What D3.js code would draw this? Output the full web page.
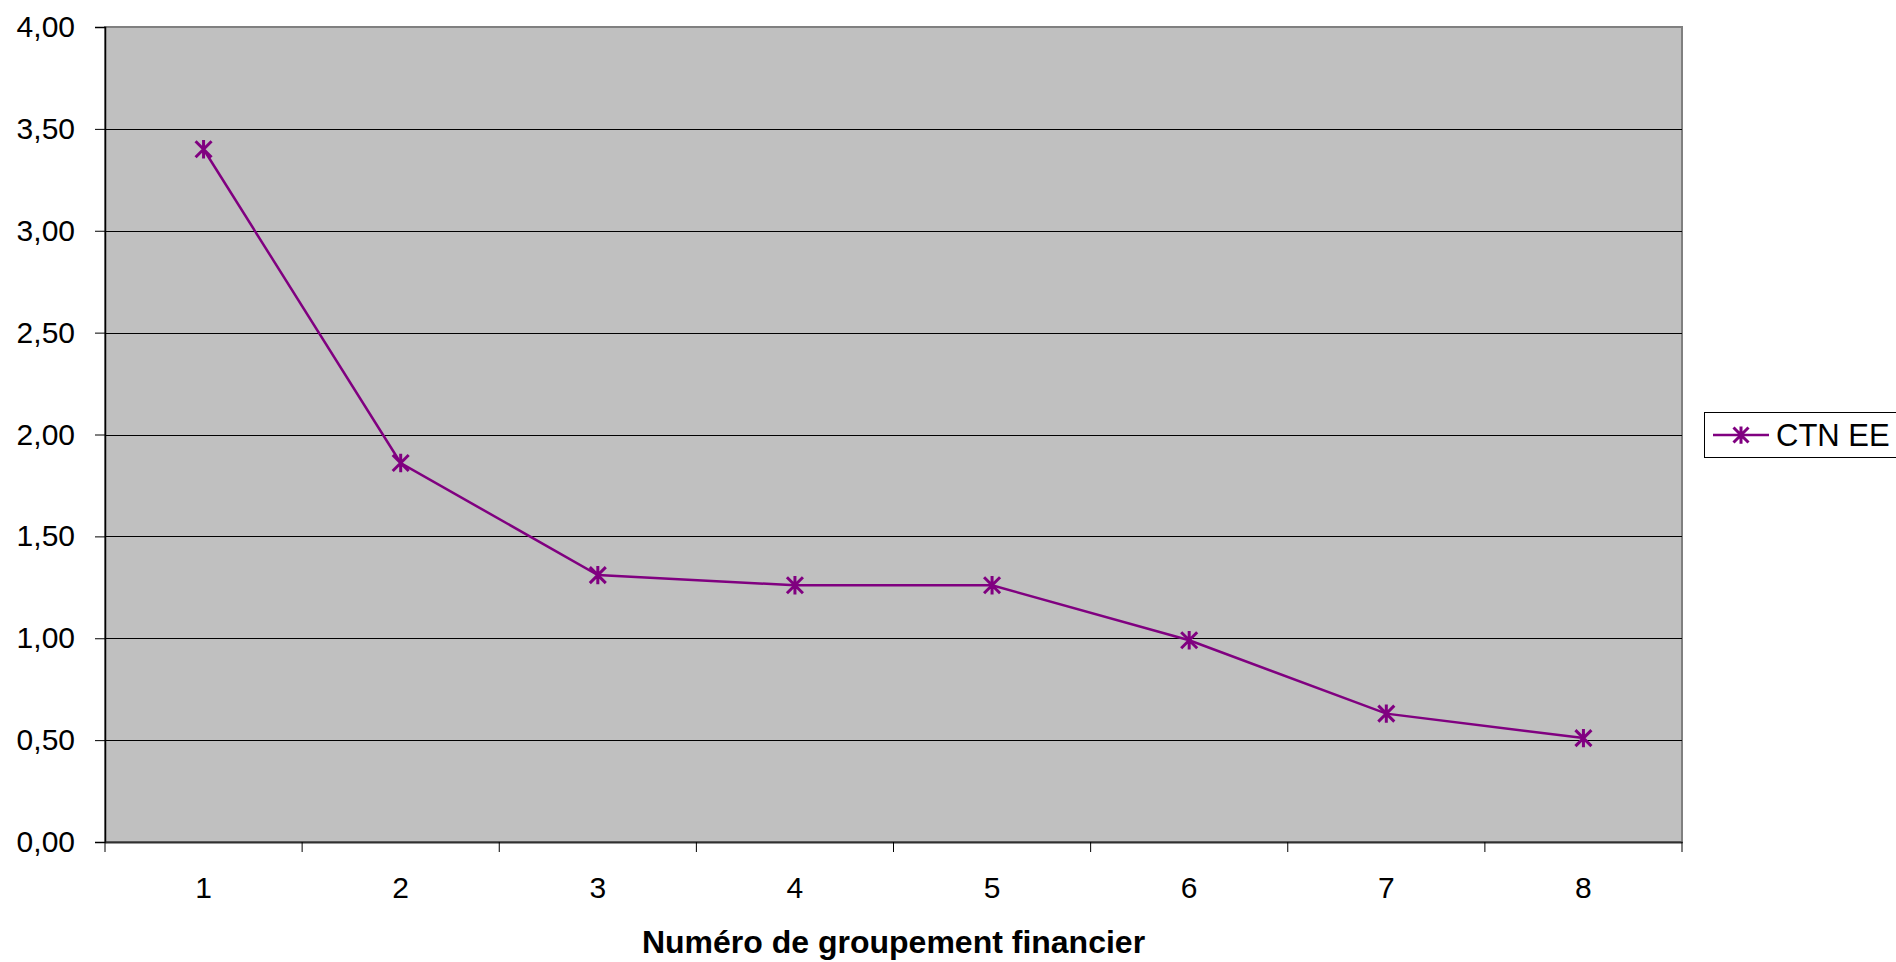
<!DOCTYPE html>
<html>
<head>
<meta charset="utf-8">
<script src="https://cdn.jsdelivr.net/npm/d3@7"></script>
<style>
  html, body { margin: 0; padding: 0; background: #fff; }
  svg { display: block; font-family: "Liberation Sans", Arial, sans-serif; }
</style>
</head>
<body>
<svg id="chart" width="1896" height="962"></svg>
<script>
// Groupements financiers and CTN EE values
const categories = ["1", "2", "3", "4", "5", "6", "7", "8"];
const ctnEE = [3.40, 1.86, 1.31, 1.26, 1.26, 0.99, 0.63, 0.51];
const yTicks = [0, 0.5, 1, 1.5, 2, 2.5, 3, 3.5, 4];
const seriesName = "CTN EE";
const xTitle = "Numéro de groupement financier";

const svg = d3.select("#chart");
const plot = { left: 105, right: 1682, top: 27, bottom: 842 };
const purple = "#800080";
const labelSize = 30;

const x = d3.scaleBand().domain(categories).range([plot.left, plot.right]);
const y = d3.scaleLinear().domain([0, 4]).range([plot.bottom, plot.top]);
const fmt = v => d3.format(".2f")(v).replace(".", ",");

// plot background
svg.append("rect")
  .attr("x", plot.left).attr("y", plot.top)
  .attr("width", plot.right - plot.left).attr("height", plot.bottom - plot.top)
  .attr("fill", "#c0c0c0").attr("stroke", "#808080").attr("stroke-width", 2);

// horizontal gridlines
svg.append("g").selectAll("line").data(yTicks.filter(t => t > 0 && t < 4)).join("line")
  .attr("x1", plot.left).attr("x2", plot.right)
  .attr("y1", d => Math.round(y(d)) + 0.5).attr("y2", d => Math.round(y(d)) + 0.5)
  .attr("stroke", "#000").attr("stroke-width", 1);

// y axis
const yAxis = svg.append("g").attr("transform", `translate(${plot.left},0)`)
  .call(d3.axisLeft(y).tickValues(yTicks).tickFormat(fmt).tickSize(10).tickPadding(20));
yAxis.select(".domain").attr("stroke", "#000").attr("stroke-width", 1.5);
yAxis.selectAll(".tick line").attr("stroke", "#000");
yAxis.selectAll("text").attr("font-size", labelSize).attr("fill", "#000")
  .attr("font-family", "Liberation Sans, Arial, sans-serif");

// x axis with ticks at category boundaries
const xAxis = svg.append("g").attr("transform", `translate(0,${plot.bottom})`)
  .call(d3.axisBottom(x).tickSize(0).tickPadding(35));
xAxis.select(".domain").attr("stroke", "#303030").attr("stroke-width", 2);
xAxis.selectAll("text").attr("font-size", labelSize).attr("fill", "#000")
  .attr("font-family", "Liberation Sans, Arial, sans-serif");
const bounds = categories.map(c => x(c)).concat([x.range()[1]]);
xAxis.selectAll(".bound").data(bounds).join("line").attr("class", "bound")
  .attr("x1", d => d).attr("x2", d => d).attr("y1", 0).attr("y2", 10)
  .attr("stroke", "#000").attr("stroke-width", 1);

// x axis title
svg.append("text")
  .attr("x", (plot.left + plot.right) / 2).attr("y", 953)
  .attr("text-anchor", "middle").attr("font-size", 32).attr("font-weight", "bold")
  .text(xTitle);

// series line
const line = d3.line()
  .x((d, i) => x(categories[i]) + x.bandwidth() / 2)
  .y(d => y(d));
svg.append("path").datum(ctnEE)
  .attr("d", line).attr("fill", "none")
  .attr("stroke", purple).attr("stroke-width", 2.5);

// star markers
function star(g, cx, cy, r) {
  const p = [];
  p.push(`M${cx - r},${cy - r}L${cx + r},${cy + r}`);
  p.push(`M${cx - r},${cy + r}L${cx + r},${cy - r}`);
  p.push(`M${cx},${cy - r * 1.15}L${cx},${cy + r * 1.15}`);
  g.append("path").attr("d", p.join("")).attr("stroke", purple)
    .attr("stroke-width", 3).attr("fill", "none");
}
const markers = svg.append("g");
ctnEE.forEach((v, i) => star(markers, x(categories[i]) + x.bandwidth() / 2, y(v), 8));

// legend
const lg = svg.append("g");
lg.append("rect").attr("x", 1704.5).attr("y", 412.5).attr("width", 200).attr("height", 45)
  .attr("fill", "#fff").attr("stroke", "#000").attr("stroke-width", 1);
lg.append("line").attr("x1", 1713).attr("x2", 1769).attr("y1", 435).attr("y2", 435)
  .attr("stroke", purple).attr("stroke-width", 2.5);
star(lg, 1741, 435, 7.5);
lg.append("text").attr("x", 1776).attr("y", 446).attr("font-size", 31).text(seriesName);
</script>
</body>
</html>
